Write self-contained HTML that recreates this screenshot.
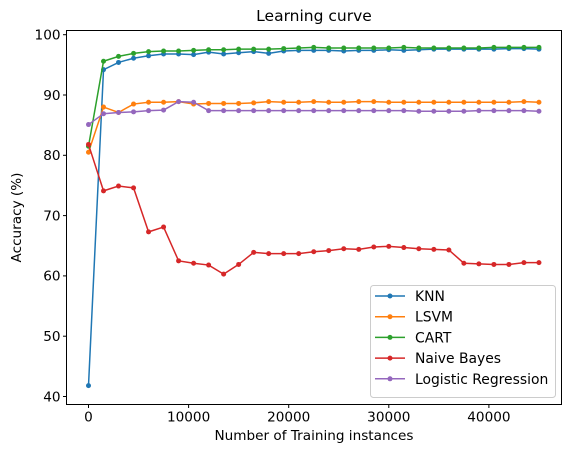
<!DOCTYPE html>
<html><head><meta charset="utf-8"><style>body{margin:0;background:#fff}svg{display:block;font-family:"DejaVu Sans","Liberation Sans",sans-serif}</style></head>
<body>
<svg id="c" width="571" height="453"></svg>
<script>
const xs=[0,1500,3000,4500,6000,7500,9000,10500,12000,13500,15000,16500,18000,19500,21000,22500,24000,25500,27000,28500,30000,31500,33000,34500,36000,37500,39000,40500,42000,43500,45000];
const knn=[41.8,94.2,95.4,96.1,96.5,96.8,96.8,96.7,97.1,96.8,97.0,97.2,96.9,97.3,97.4,97.4,97.4,97.3,97.4,97.4,97.5,97.4,97.5,97.6,97.6,97.6,97.6,97.6,97.7,97.7,97.6];
const lsvm=[80.5,88.0,87.1,88.5,88.8,88.8,88.9,88.5,88.6,88.6,88.6,88.7,88.9,88.8,88.8,88.9,88.8,88.8,88.9,88.9,88.8,88.8,88.8,88.8,88.8,88.8,88.8,88.8,88.8,88.9,88.8];
const cart=[81.5,95.6,96.4,96.9,97.2,97.3,97.3,97.4,97.5,97.5,97.6,97.6,97.6,97.7,97.8,97.9,97.8,97.8,97.8,97.8,97.8,97.9,97.8,97.8,97.8,97.8,97.8,97.9,97.9,97.9,97.9];
const nb=[81.8,74.1,74.9,74.6,67.3,68.1,62.5,62.1,61.8,60.3,61.9,63.9,63.7,63.7,63.7,64.0,64.2,64.5,64.4,64.8,64.9,64.7,64.5,64.4,64.3,62.1,62.0,61.9,61.9,62.2,62.2];
const lr=[85.1,86.9,87.1,87.2,87.4,87.5,88.9,88.8,87.4,87.4,87.4,87.4,87.4,87.4,87.4,87.4,87.4,87.4,87.4,87.4,87.4,87.4,87.3,87.3,87.3,87.3,87.4,87.4,87.4,87.4,87.3];
const seriesNames=["KNN","LSVM","CART","Naive Bayes","Logistic Regression"];
const xTicks=[0,10000,20000,30000,40000];
const yTicks=[40,50,60,70,80,90,100];
const NS="http://www.w3.org/2000/svg",svg=document.getElementById('c');
const L=66.5,R=561.5,T=30.5,B=404.5;
const X=v=>88.5+v*0.01001, Y=v=>95+(90-v)*6.03;
function mk(t,a,p){const e=document.createElementNS(NS,t);for(const k in a)e.setAttribute(k,a[k]);(p||svg).appendChild(e);return e;}
const colors=["#1f77b4","#ff7f0e","#2ca02c","#d62728","#9467bd"];
const data=[knn,lsvm,cart,nb,lr];
data.forEach((s,i)=>{
 const g=mk('g',{});
 
 
 mk('polyline',{points:s.map((v,j)=>X(xs[j])+','+Y(v)).join(' '),fill:'none',stroke:colors[i],'stroke-width':1.5},g);
 s.forEach((v,j)=>{const c=mk('circle',{cx:X(xs[j]),cy:Y(v),r:2.5,fill:colors[i]},g);
  
  });
});
const ax=mk('rect',{x:L,y:T,width:R-L,height:B-T,fill:'none',stroke:'#000','stroke-width':1});


xTicks.forEach(t=>{const x=X(t);mk('line',{x1:x,x2:x,y1:B,y2:B+3.5,stroke:'#000'});
 const tx=mk('text',{x:x,y:B+17,'font-size':13.6,'text-anchor':'middle'});tx.textContent=t;
 
 });
yTicks.forEach(t=>{const y=Y(t);mk('line',{x1:L-3.5,x2:L,y1:y,y2:y,stroke:'#000'});
 const tx=mk('text',{x:L-6,y:y+4.8,'font-size':13.6,'text-anchor':'end'});tx.textContent=t;
 
 });
const lg=mk('g',{});


mk('rect',{x:370.5,y:285.5,width:185,height:112,rx:3,fill:'#fff','fill-opacity':0.8,stroke:'#ccc'},lg);
seriesNames.forEach((n,i)=>{const y=296+i*20.7;
 mk('line',{x1:375,x2:405,y1:y,y2:y,stroke:colors[i],'stroke-width':1.5},lg);
 mk('circle',{cx:390,cy:y,r:2.5,fill:colors[i]},lg);
 const t=mk('text',{x:415,y:y+5,'font-size':13.9},lg);t.textContent=n;
 
 });
const ti=mk('text',{x:(L+R)/2,y:21,'font-size':15.5,'text-anchor':'middle'});ti.textContent='Learning curve';


const xl=mk('text',{x:(L+R)/2,y:440,'font-size':13.6,'text-anchor':'middle'});xl.textContent='Number of Training instances';


const yl=mk('text',{x:0,y:0,'font-size':13.6,'text-anchor':'middle',transform:'translate(21,'+((T+B)/2)+') rotate(-90)'});yl.textContent='Accuracy (%)';


</script>
</body></html>
